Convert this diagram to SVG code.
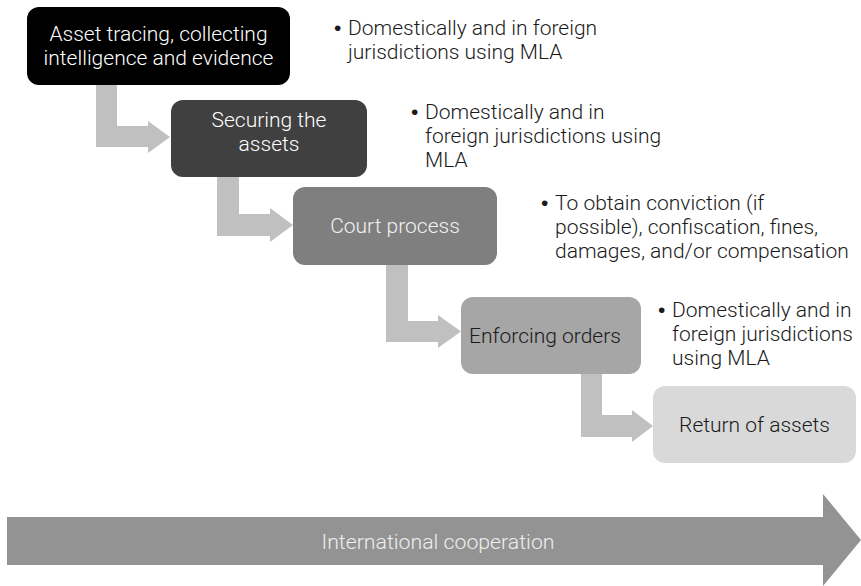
<svg xmlns="http://www.w3.org/2000/svg" width="861" height="586" viewBox="0 0 861 586">
<style>
text{font-family:Roboto,"Liberation Sans",Arial,sans-serif;font-size:21px;font-weight:300}
.c{text-anchor:middle}
.w{fill:#ffffff}
.k{fill:#1a1a1a}
.b{fill:#1a1a1a}
.dot{font-family:"Liberation Sans",Arial,sans-serif;font-weight:400;fill:#1a1a1a}
.conn{fill:#c0c0c0}
</style>
<rect width="861" height="586" fill="#ffffff"/>
<g id="connectors">
<polygon class="conn" points="96,85 117,85 117,126 148,126 148,121 170,137 148,153 148,147 96,147"/>
<polygon class="conn" points="217,177 239,177 239,214 270,214 270,208 293,225 270,242 270,236 217,236"/>
<polygon class="conn" points="386,265 408,265 408,321 438,321 438,315 461,331.5 438,348 438,342 386,342"/>
<polygon class="conn" points="581,374 602,374 602,415 632,415 632,410 653,426 632,442 632,437 581,437"/>
</g>
<g id="node1">
<rect x="27" y="7" width="263" height="78" rx="12" fill="#000000"/>
<text class="c w" x="158.5" y="41">Asset tracing, collecting</text>
<text class="c w" x="158.5" y="65">intelligence and evidence</text>
</g>
<g id="node2">
<rect x="171" y="100" width="196" height="77" rx="12" fill="#404040"/>
<text class="c w" x="269" y="127">Securing the</text>
<text class="c w" x="269" y="151">assets</text>
</g>
<g id="node3">
<rect x="293" y="187" width="204" height="78" rx="12" fill="#7f7f7f"/>
<text class="c" x="395" y="233" fill="#f2f2f2">Court process</text>
</g>
<g id="node4">
<rect x="461" y="297" width="180" height="77" rx="12" fill="#a6a6a6"/>
<text class="c k" x="545" y="343">Enforcing orders</text>
</g>
<g id="node5">
<rect x="653" y="386" width="203" height="77" rx="12" fill="#d9d9d9"/>
<text class="c k" x="754.5" y="432">Return of assets</text>
</g>
<g id="note1">
<text class="dot" x="334" y="35">•</text>
<text class="b" x="348" y="35">Domestically and in foreign</text>
<text class="b" x="348" y="59">jurisdictions using MLA</text>
</g>
<g id="note2">
<text class="dot" x="411" y="119">•</text>
<text class="b" x="425" y="119">Domestically and in</text>
<text class="b" x="425" y="143">foreign jurisdictions using</text>
<text class="b" x="425" y="167">MLA</text>
</g>
<g id="note3">
<text class="dot" x="541" y="210">•</text>
<text class="b" x="555" y="210">To obtain conviction (if</text>
<text class="b" x="555" y="234">possible), confiscation, fines,</text>
<text class="b" x="555" y="258">damages, and/or compensation</text>
</g>
<g id="note4">
<text class="dot" x="658" y="317">•</text>
<text class="b" x="672" y="317">Domestically and in</text>
<text class="b" x="672" y="341">foreign jurisdictions</text>
<text class="b" x="672" y="365">using MLA</text>
</g>
<g id="cooperation">
<polygon points="7,517 823,517 823,494 861,540 823,586 823,565 7,565" fill="#939393"/>
<text class="c" x="438" y="549" fill="#eeeeee" style="font-size:20px" textLength="233" lengthAdjust="spacingAndGlyphs">International cooperation</text>
</g>
</svg>
